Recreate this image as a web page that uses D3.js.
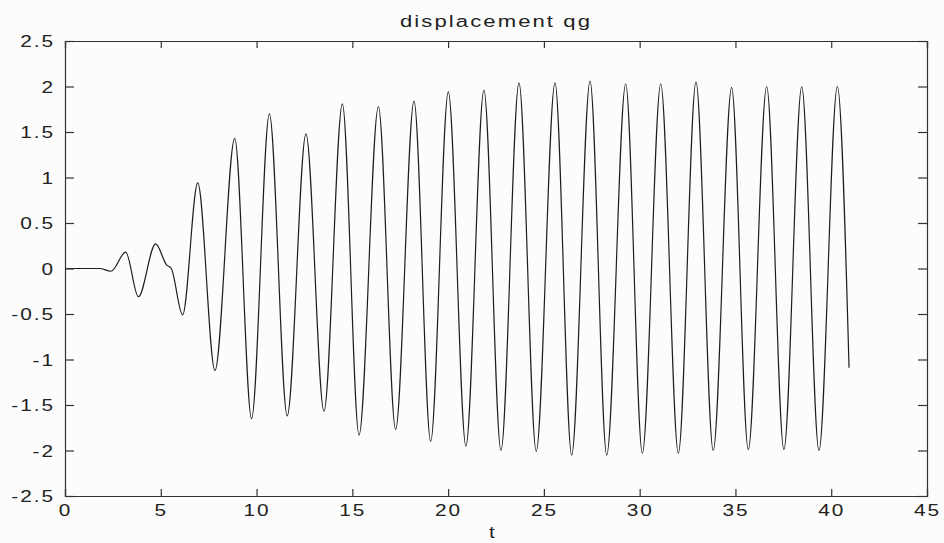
<!DOCTYPE html>
<html>
<head>
<meta charset="utf-8">
<script src="https://cdn.jsdelivr.net/npm/d3@7"></script>
<style>
  body { margin: 0; background: #fcfcfc; }
  svg { display: block; }
  text { font-family: "Liberation Sans", Arial, sans-serif; fill: #222; }
</style>
</head>
<body>
<svg class="chart"></svg>
<script>
// turning points of the displacement curve
const tValues = [0, 1.8, 2.4, 3.17, 3.83, 4.73, 5.3, 5.55, 6.14, 6.93, 7.83, 8.86, 9.74,
  10.67, 11.6, 12.58, 13.52, 14.48, 15.35, 16.36, 17.26, 18.22, 19.09, 20.01, 20.93,
  21.87, 22.76, 23.7, 24.6, 25.58, 26.45, 27.41, 28.28, 29.27, 30.14, 31.1, 32.02,
  32.94, 33.84, 34.8, 35.67, 36.63, 37.53, 38.46, 39.36, 40.32, 40.93];
const qgValues = [0, 0, -0.03, 0.18, -0.31, 0.27, 0.04, 0.0, -0.51, 0.94, -1.12, 1.43, -1.65,
  1.70, -1.62, 1.48, -1.57, 1.81, -1.83, 1.78, -1.77, 1.84, -1.90, 1.94, -1.95,
  1.96, -2.0, 2.04, -2.01, 2.04, -2.05, 2.06, -2.05, 2.03, -2.03, 2.03, -2.03,
  2.05, -2.0, 1.99, -1.99, 2.0, -1.99, 2.0, -2.0, 2.0, -1.09];
const xTicks = [0, 5, 10, 15, 20, 25, 30, 35, 40, 45];
const yTicks = [-2.5, -2, -1.5, -1, -0.5, 0, 0.5, 1, 1.5, 2, 2.5];

const width = 944, height = 543;
const margin = { top: 41, right: 17, bottom: 47, left: 65 };
const w = width - margin.left - margin.right,
  h = height - margin.top - margin.bottom;

const svg = d3.select('.chart')
  .attr('width', width)
  .attr('height', height);

const chart = svg.append('g')
  .attr('transform', 'translate(' + margin.left + ',' + margin.top + ')');

const x = d3.scaleLinear().domain([0, 45]).range([0, w]);
const y = d3.scaleLinear().domain([-2.5, 2.5]).range([h, 0]);

const data = tValues.map((t, i) => ({ t: t, v: qgValues[i] }));

const line = d3.line()
  .x(d => x(d.t))
  .y(d => y(d.v))
  .curve(d3.curveMonotoneX);

chart.append('path')
  .datum(data)
  .attr('fill', 'none')
  .attr('stroke', '#1e1e1e')
  .attr('stroke-width', 1.2)
  .attr('d', line);

// ticks point inward on all four sides, like the original
const fmt = d => String(d);
const axBottom = chart.append('g')
  .attr('transform', 'translate(0,' + h + ')')
  .call(d3.axisBottom(x).tickValues(xTicks).tickSize(-7).tickFormat(fmt));
const axTop = chart.append('g')
  .call(d3.axisTop(x).tickValues(xTicks).tickSize(-7).tickFormat(''));
const axLeft = chart.append('g')
  .call(d3.axisLeft(y).tickValues(yTicks).tickSize(-9).tickFormat(fmt));
const axRight = chart.append('g')
  .attr('transform', 'translate(' + w + ',0)')
  .call(d3.axisRight(y).tickValues(yTicks).tickSize(-9).tickFormat(''));

[axBottom, axTop, axLeft, axRight].forEach(g => {
  g.select('.domain').attr('stroke', '#333').attr('stroke-width', 1.2);
  g.selectAll('.tick line').attr('stroke', '#333').attr('stroke-width', 1.2);
  g.selectAll('.tick text')
    .attr('font-size', 16)
    .attr('fill', '#222')
    .style('letter-spacing', '1.5px')
    .attr('font-family', '"Liberation Sans", Arial, sans-serif');
});

// the scanned lettering is wide, so stretch the labels a bit
axBottom.selectAll('.tick text')
  .attr('y', null).attr('dy', null)
  .attr('transform', 'translate(0,20) scale(1.3,1)');
axLeft.selectAll('.tick text')
  .attr('x', null).attr('dy', '0.36em')
  .attr('transform', 'translate(-10,0) scale(1.3,1)');

chart.append('text')
  .attr('transform', 'translate(' + (w / 2) + ',-14) scale(1.3,1)')
  .style('text-anchor', 'middle')
  .style('font-size', '17px')
  .style('letter-spacing', '1.6px')
  .text('displacement qg');

chart.append('text')
  .attr('transform', 'translate(' + (w / 2 - 4) + ',' + (h + 42) + ') scale(1.3,1)')
  .style('text-anchor', 'middle')
  .style('font-size', '16px')
  .text('t');
</script>
</body>
</html>
